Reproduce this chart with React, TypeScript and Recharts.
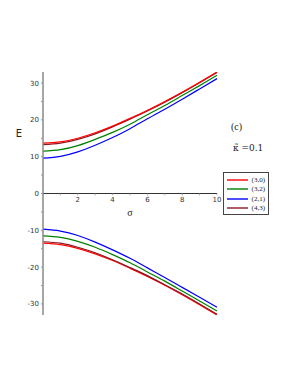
import React from 'react';
import { LineChart, Line, XAxis, YAxis, ReferenceLine, ReferenceDot, Legend } from 'recharts';

const sigma = [0, 1, 2, 3, 4, 5, 6, 7, 8, 9, 10];

// upper branch
const up30 = [13.7, 14.0, 15.0, 16.5, 18.3, 20.4, 22.6, 25.0, 27.5, 30.2, 33.0];
const up32 = [11.5, 11.9, 13.0, 14.7, 16.6, 18.8, 21.4, 23.9, 26.6, 29.3, 32.1];
const up21 = [9.6, 10.1, 11.3, 13.1, 15.2, 17.6, 20.3, 22.9, 25.6, 28.4, 31.2];
const up43 = [13.3, 13.7, 14.7, 16.2, 18.1, 20.2, 22.4, 24.8, 27.4, 30.1, 32.9];

// lower branch
const lo30 = [-13.5, -13.9, -14.9, -16.4, -18.2, -20.3, -22.5, -24.9, -27.5, -30.2, -33.0];
const lo32 = [-11.5, -11.9, -13.0, -14.6, -16.6, -18.8, -21.3, -23.8, -26.5, -29.2, -31.9];
const lo21 = [-9.7, -10.2, -11.4, -13.2, -15.3, -17.6, -20.2, -22.8, -25.5, -28.2, -30.9];
const lo43 = [-13.1, -13.5, -14.6, -16.1, -18.0, -20.1, -22.3, -24.8, -27.3, -30.0, -32.8];

const seriesNames = ['(3,0)', '(3,2)', '(2,1)', '(4,3)'];
const seriesColors = ['#ff0000', '#008000', '#0000ff', '#8c1820'];

const yTicks = [-30, -25, -20, -15, -10, -5, 0, 5, 10, 15, 20, 25, 30];
const xMinorTicks = [1, 2, 3, 4, 5, 6, 7, 8, 9, 10];
const xLabelTicks = [2, 4, 6, 8, 10];

const data = sigma.map((s, i) => ({
  s,
  u30: up30[i], u32: up32[i], u21: up21[i], u43: up43[i],
  l30: lo30[i], l32: lo32[i], l21: lo21[i], l43: lo43[i],
}));

const LegendBox = () => (
  <div
    style={{
      border: '1px solid #444',
      background: '#fff',
      padding: '2px 3px 1px 3px',
      width: 38,
      fontFamily: '"Liberation Serif", serif',
      fontSize: 7,
      color: '#222',
    }}
  >
    {seriesNames.map((n, i) => (
      <div key={n} style={{ display: 'flex', alignItems: 'center', height: 9.5 }}>
        <svg width={22} height={4} style={{ marginRight: 4, display: 'block' }}>
          <line x1={0} y1={2} x2={22} y2={2} stroke={seriesColors[i]} strokeWidth={1.4} />
        </svg>
        <span>{n}</span>
      </div>
    ))}
  </div>
);

export default function App() {
  const lw = 1.2;
  return (
    <div style={{ position: 'absolute', left: 0, top: 0, width: 291, height: 376, background: '#fff' }}>
      <LineChart
        width={291}
        height={376}
        data={data}
        margin={{ top: 72, right: 74, bottom: 61, left: 13 }}
      >
        <XAxis dataKey="s" type="number" domain={[0, 10]} hide />
        <YAxis
          type="number"
          domain={[-33, 33]}
          allowDataOverflow
          ticks={yTicks}
          interval={0}
          width={30}
          tickFormatter={(v: number) => (v % 10 === 0 ? String(v) : '')}
          tick={{ fontSize: 7, fill: '#333', fontFamily: '"DejaVu Sans", sans-serif' }}
          tickLine={{ stroke: '#999' }}
          tickSize={2}
          tickMargin={2}
          axisLine={{ stroke: '#888', strokeWidth: 1.5 }}
        />
        <ReferenceLine
          y={0}
          stroke="#333"
          strokeWidth={1}
          label={{ value: 'σ', position: 'bottom', offset: 15, fontSize: 10, fill: '#222', fontFamily: '"Liberation Serif", serif' }}
        />
        {xMinorTicks.map((t) => (
          <ReferenceLine
            key={'mt' + t}
            segment={[{ x: t, y: 0 }, { x: t, y: -0.5 }]}
            stroke="#999"
            strokeWidth={0.8}
          />
        ))}
        {xLabelTicks.map((t) => (
          <ReferenceDot
            key={'lt' + t}
            x={t}
            y={0}
            r={0}
            fill="none"
            stroke="none"
            label={{ value: String(t), position: 'bottom', offset: 4, fontSize: 7, fill: '#333', fontFamily: '"DejaVu Sans", sans-serif' }}
          />
        ))}
        <ReferenceDot
          x={0}
          y={16.4}
          r={0}
          fill="none"
          stroke="none"
          label={{ value: 'E', position: 'left', offset: 21, fontSize: 10, fill: '#222', fontFamily: '"DejaVu Sans", sans-serif' }}
        />
        <Line type="natural" dataKey="u21" stroke={seriesColors[2]} strokeWidth={lw} dot={false} isAnimationActive={false} />
        <Line type="natural" dataKey="u32" stroke={seriesColors[1]} strokeWidth={lw} dot={false} isAnimationActive={false} />
        <Line type="natural" dataKey="u43" stroke={seriesColors[3]} strokeWidth={lw} dot={false} isAnimationActive={false} />
        <Line type="natural" dataKey="u30" stroke={seriesColors[0]} strokeWidth={lw} dot={false} isAnimationActive={false} />
        <Line type="natural" dataKey="l21" stroke={seriesColors[2]} strokeWidth={lw} dot={false} isAnimationActive={false} />
        <Line type="natural" dataKey="l32" stroke={seriesColors[1]} strokeWidth={lw} dot={false} isAnimationActive={false} />
        <Line type="natural" dataKey="l30" stroke={seriesColors[0]} strokeWidth={lw} dot={false} isAnimationActive={false} />
        <Line type="natural" dataKey="l43" stroke={seriesColors[3]} strokeWidth={lw} dot={false} isAnimationActive={false} />
        <Legend
          layout="vertical"
          align="center"
          verticalAlign="middle"
          content={() => <LegendBox />}
          wrapperStyle={{ left: 223, top: 172, width: 'auto', height: 'auto' }}
        />
      </LineChart>
      <div
        style={{
          position: 'absolute',
          left: 231,
          top: 121,
          fontFamily: '"Liberation Serif", serif',
          fontSize: 10,
          color: '#222',
        }}
      >
        (c)
      </div>
      <div
        style={{
          position: 'absolute',
          left: 233,
          top: 142,
          fontFamily: '"DejaVu Serif", serif',
          fontSize: 9,
          color: '#222',
          whiteSpace: 'nowrap',
          lineHeight: '13px',
        }}
      >
        {'κ\u0303 =0.1'}
      </div>
    </div>
  );
}
